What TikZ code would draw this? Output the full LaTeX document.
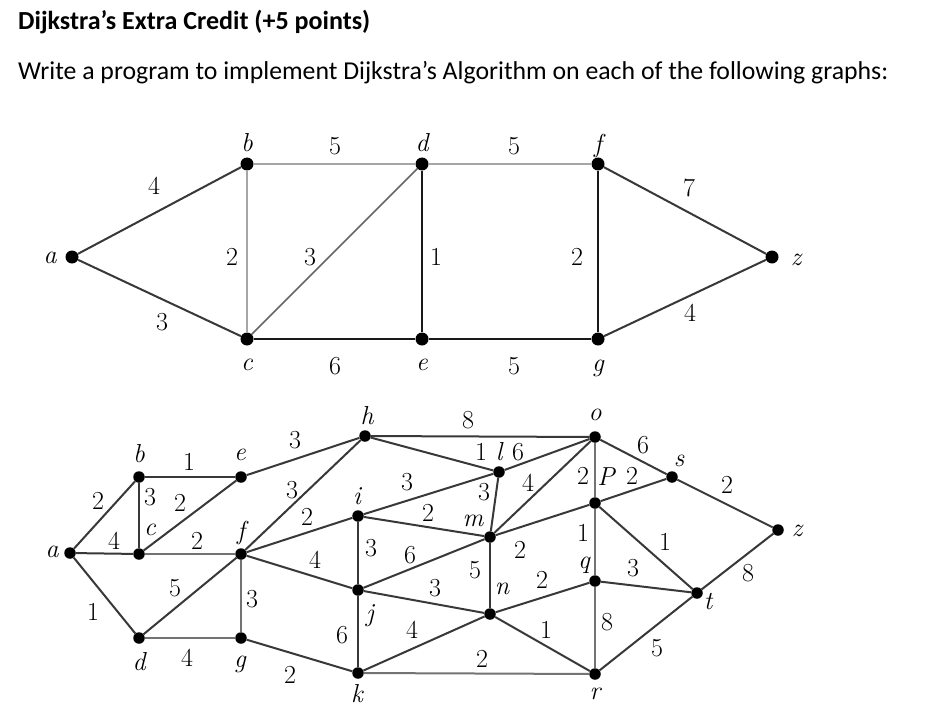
\documentclass[tikz,border=0pt]{standalone}
\usepackage{fontspec}
\newfontfamily\calib{Carlito}
\begin{document}
\begin{tikzpicture}[x=1pt,y=-1pt,
 dot/.style={circle,fill=black,inner sep=0pt,minimum size=13pt},
 sdot/.style={circle,fill=black,inner sep=0pt,minimum size=11.5pt},
 wt/.style={inner sep=0pt,font=\rmfamily\fontsize{26}{26}\selectfont},
 nm/.style={inner sep=0pt,font=\rmfamily\fontsize{26}{26}\selectfont\itshape},
 dk/.style={draw=black!78,line width=2pt},
 bk/.style={draw=black!90,line width=2.6pt},
 lg/.style={draw=black!35,line width=2.6pt},
 mg/.style={draw=black!60,line width=1.6pt},
 gr/.style={draw=black!55,line width=2pt}]
\useasboundingbox[fill=white] (0,0) rectangle (936,714);

% heading
\node[anchor=base west,inner sep=0pt] (title) at (18,30) {\resizebox{352pt}{!}{\calib\bfseries Dijkstra’s Extra Credit (+5 points)}};
\node[anchor=base west,inner sep=0pt] (task) at (18,80) {\resizebox{870pt}{!}{\calib Write a program to implement Dijkstra’s Algorithm on each of the following graphs:}};

% ---------- upper graph ----------
\node[dot] (ta) at (72,257) {};
\node[dot] (tb) at (247,164) {};
\node[dot] (tc) at (247,339) {};
\node[dot] (td) at (422,164) {};
\node[dot] (te) at (422,339) {};
\node[dot] (tf) at (598,164) {};
\node[dot] (tg) at (598,339) {};
\node[dot] (tz) at (772,257) {};

\draw[dk] (ta) -- (tb);
\draw[dk] (ta) -- (tc);
\draw[lg] (tb) -- (td);
\draw[lg] (tb) -- (tc);
\draw[mg] (tc) -- (td);
\draw[bk] (td) -- (te);
\draw[bk] (tc) -- (te);
\draw[lg] (td) -- (tf);
\draw[bk] (tf) -- (tg);
\draw[bk] (te) -- (tg);
\draw[dk] (tf) -- (tz);
\draw[dk] (tg) -- (tz);

\node[nm] (la) at (50,258) {a};
\node[nm] (lb) at (247,143) {b};
\node[nm] (lc) at (247,365) {c};
\node[nm] (ld) at (422,143) {d};
\node[nm] (le) at (422,365) {e};
\node[nm] (lf) at (598,146) {f};
\node[nm] (lgl) at (598,368) {g};
\node[nm] (lz) at (796,260) {z};

\node[wt] (w1) at (154,186) {4};
\node[wt] (w2) at (335,146) {5};
\node[wt] (w3) at (514,146) {5};
\node[wt] (w4) at (689,188) {7};
\node[wt] (w5) at (232,257) {2};
\node[wt] (w6) at (310,257) {3};
\node[wt] (w7) at (436,257) {1};
\node[wt] (w8) at (577,257) {2};
\node[wt] (w9) at (162,322) {3};
\node[wt] (w10) at (335,366) {6};
\node[wt] (w11) at (514,366) {5};
\node[wt] (w12) at (690,313) {4};

% ---------- lower graph ----------
\node[sdot] (a) at (70,553) {};
\node[sdot] (b) at (139,477) {};
\node[sdot] (c) at (139,554) {};
\node[sdot] (d) at (139,638) {};
\node[sdot] (e) at (241,477) {};
\node[sdot] (f) at (241,554) {};
\node[sdot] (g) at (241,638) {};
\node[sdot] (h) at (365,436) {};
\node[sdot] (i) at (358,516) {};
\node[sdot] (j) at (358,590) {};
\node[sdot] (k) at (358,673) {};
\node[sdot] (l) at (499,472) {};
\node[sdot] (m) at (490,537) {};
\node[sdot] (n) at (490,614) {};
\node[sdot] (o) at (595,437) {};
\node[sdot] (p) at (595,503) {};
\node[sdot] (q) at (595,581) {};
\node[sdot] (r) at (595,674) {};
\node[sdot] (s) at (672,477) {};
\node[sdot] (t) at (697,593) {};
\node[sdot] (z) at (778,530) {};

\draw[dk] (a) -- (b);
\draw[dk] (a) -- (c);
\draw[dk] (a) -- (d);
\draw[dk] (b) -- (e);
\draw[dk] (b) -- (c);
\draw[dk] (c) -- (e);
\draw[gr] (c) -- (f);
\draw[dk] (d) -- (f);
\draw[gr] (d) -- (g);
\draw[gr] (f) -- (g);
\draw[dk] (e) -- (h);
\draw[dk] (f) -- (h);
\draw[dk] (f) -- (i);
\draw[dk] (f) -- (j);
\draw[dk] (g) -- (k);
\draw[dk] (h) -- (o);
\draw[dk] (h) -- (l);
\draw[dk] (i) -- (l);
\draw[dk] (i) -- (m);
\draw[dk] (i) -- (j);
\draw[dk] (j) -- (m);
\draw[dk] (j) -- (n);
\draw[dk] (j) -- (k);
\draw[dk] (k) -- (n);
\draw[gr] (k) -- (r);
\draw[dk] (l) -- (m);
\draw[dk] (l) -- (o);
\draw[dk] (m) -- (o);
\draw[dk] (m) -- (p);
\draw[dk] (m) -- (n);
\draw[dk] (n) -- (q);
\draw[dk] (n) -- (r);
\draw[gr] (o) -- (p);
\draw[dk] (o) -- (s);
\draw[dk] (p) -- (s);
\draw[gr] (p) -- (q);
\draw[dk] (p) -- (t);
\draw[dk] (q) -- (t);
\draw[gr] (q) -- (r);
\draw[dk] (r) -- (t);
\draw[dk] (s) -- (z);
\draw[dk] (t) -- (z);

\node[nm] (na) at (52,552) {a};
\node[nm] (nb) at (139,454) {b};
\node[nm] (nc) at (150,530) {c};
\node[nm] (nd) at (139,662) {d};
\node[nm] (ne) at (240,455) {e};
\node[nm] (nf) at (241,533) {f};
\node[nm] (ng) at (240,664) {g};
\node[nm] (nh) at (367,416) {h};
\node[nm] (ni) at (357,496) {i};
\node[nm] (nj) at (370,616) {j};
\node[nm] (nk) at (357,694) {k};
\node[nm] (nl) at (499,452) {l};
\node[nm] (nml) at (473,521) {m};
\node[nm] (nn) at (502,589) {n};
\node[nm] (no) at (595,415) {o};
\node[nm] (np) at (606,477) {P};
\node[nm] (nq) at (584,565) {q};
\node[nm] (nr) at (595,694) {r};
\node[nm] (ns) at (679,461) {s};
\node[nm] (nt) at (708,601) {t};
\node[nm] (nz) at (797,531) {z};

\node[wt] (v1) at (98,501) {2};
\node[wt] (v2) at (114,541) {4};
\node[wt] (v3) at (93,612) {1};
\node[wt] (v4) at (189,462) {1};
\node[wt] (v5) at (150,497) {3};
\node[wt] (v6) at (180,503) {2};
\node[wt] (v7) at (197,541) {2};
\node[wt] (v8) at (175,588) {5};
\node[wt] (v9) at (187,658) {4};
\node[wt] (v10) at (252,599) {3};
\node[wt] (v11) at (295,440) {3};
\node[wt] (v12) at (292,490) {3};
\node[wt] (v13) at (307,517) {2};
\node[wt] (v14) at (315,560) {4};
\node[wt] (v15) at (290,675) {2};
\node[wt] (v16) at (468,420) {8};
\node[wt] (v17) at (481,452) {1};
\node[wt] (v18) at (518,452) {6};
\node[wt] (v19) at (407,482) {3};
\node[wt] (v20) at (428,513) {2};
\node[wt] (v21) at (484,492) {3};
\node[wt] (v22) at (528,483) {4};
\node[wt] (v23) at (371,548) {3};
\node[wt] (v24) at (410,555) {6};
\node[wt] (v25) at (475,570) {5};
\node[wt] (v26) at (435,588) {3};
\node[wt] (v27) at (412,630) {4};
\node[wt] (v28) at (482,659) {2};
\node[wt] (v29) at (342,635) {6};
\node[wt] (v30) at (520,550) {2};
\node[wt] (v31) at (542,580) {2};
\node[wt] (v32) at (546,630) {1};
\node[wt] (v33) at (583,476) {2};
\node[wt] (v34) at (632,476) {2};
\node[wt] (v35) at (643,445) {6};
\node[wt] (v36) at (583,533) {1};
\node[wt] (v37) at (607,622) {8};
\node[wt] (v38) at (633,568) {3};
\node[wt] (v39) at (665,542) {1};
\node[wt] (v40) at (657,648) {5};
\node[wt] (v41) at (727,485) {2};
\node[wt] (v42) at (748,573) {8};
\end{tikzpicture}
\end{document}
